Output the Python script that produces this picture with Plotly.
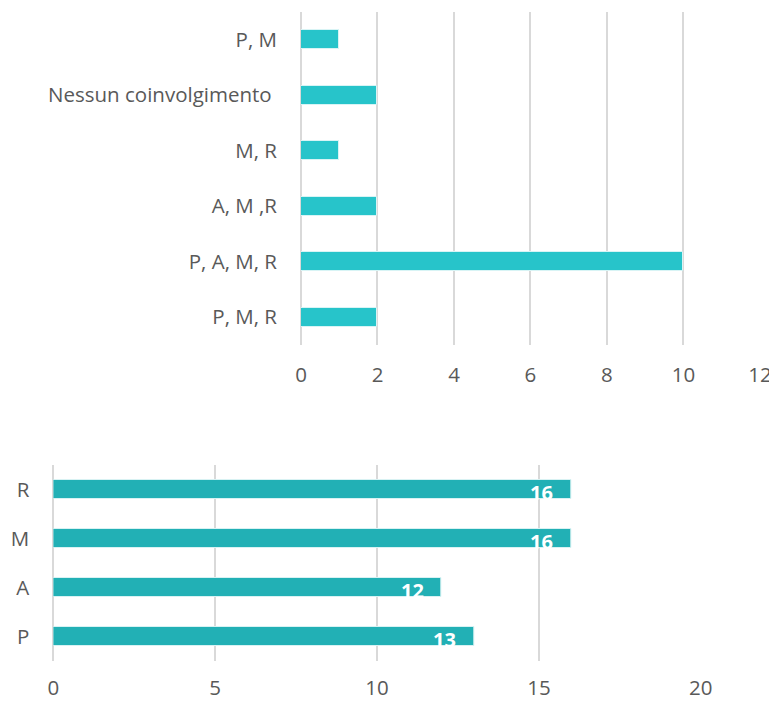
import plotly.graph_objects as go

# Upper chart: combinations of involvement (listed bottom to top)
combo_labels = ["P, M, R", "P, A, M, R", "A, M ,R", "M, R", "Nessun coinvolgimento ", "P, M"]
combo_counts = [2, 10, 2, 1, 2, 1]
combo_ticks = [0, 2, 4, 6, 8, 10, 12]

# Lower chart: single letters (listed bottom to top)
letter_labels = ["P", "A", "M", "R"]
letter_counts = [13, 12, 16, 16]
letter_ticks = [0, 5, 10, 15, 20]

W, H = 769, 701
FONT = "Open Sans"
TEXT = "#595959"
GRID = "#d9d9d9"
FS = 20.5

fig = go.Figure()

fig.add_trace(go.Bar(
    x=combo_counts, y=combo_labels, orientation="h",
    marker=dict(color="#27C4CA", line=dict(color="#d8f4f5", width=1)),
    width=0.34, xaxis="x", yaxis="y", hoverinfo="x+y",
))

fig.add_trace(go.Bar(
    x=letter_counts, y=letter_labels, orientation="h",
    marker=dict(color="#22B0B5", line=dict(color="#d8f2f3", width=1)),
    width=0.39, xaxis="x2", yaxis="y2", hoverinfo="x+y",
))

# White value labels just inside the end of each lower bar
for lbl, val in zip(letter_labels, letter_counts):
    fig.add_annotation(
        x=val, y=lbl, xref="x2", yref="y2", text=str(val),
        showarrow=False, xanchor="right", xshift=-16, yshift=-3,
        font=dict(family=FONT, size=20, color="white", weight="bold"),
    )

axis_common = dict(
    showgrid=True, gridcolor=GRID, gridwidth=2,
    zeroline=True, zerolinecolor=GRID, zerolinewidth=2,
    showline=False, ticks="", automargin=False,
    ticklabeloverflow="allow",
    tickfont=dict(family=FONT, size=FS, color=TEXT), fixedrange=True,
)
cat_common = dict(
    showgrid=False, zeroline=False, showline=False, ticks="",
    ticklabelstandoff=23, automargin=False,
    tickfont=dict(family=FONT, size=FS, color=TEXT), fixedrange=True,
)

fig.update_layout(
    width=W, height=H,
    margin=dict(l=0, r=0, t=0, b=0),
    paper_bgcolor="white", plot_bgcolor="white",
    showlegend=False, bargap=0,
    xaxis=dict(domain=[301 / W, 760 / W], range=[0, 12.001],
               tickvals=combo_ticks, anchor="y", ticklabelstandoff=15,
               **axis_common),
    yaxis=dict(domain=[1 - 345 / H, 1 - 12 / H], anchor="x",
               categoryorder="array", categoryarray=combo_labels, **cat_common),
    xaxis2=dict(domain=[53.3 / W, 700.8 / W], range=[0, 20.001],
                tickvals=letter_ticks, anchor="y2", ticklabelstandoff=12,
                **axis_common),
    yaxis2=dict(domain=[1 - 661 / H, 1 - 465 / H], anchor="x2",
                categoryorder="array", categoryarray=letter_labels, **cat_common),
)

fig.write_html("out.html")
